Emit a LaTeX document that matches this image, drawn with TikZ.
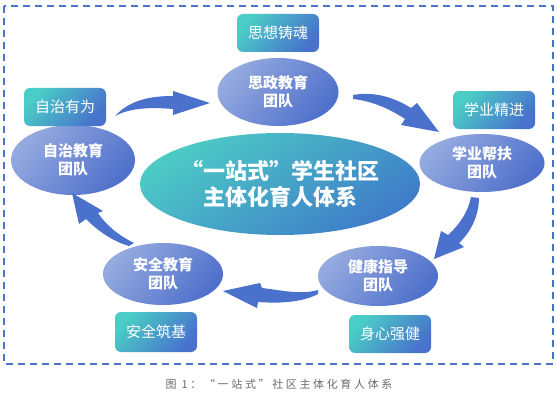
\documentclass[tikz,border=0pt]{standalone}
\usepackage{fontspec}
\setmainfont{Noto Sans CJK SC}
\usetikzlibrary{shapes.geometric}
\definecolor{elA}{HTML}{95AADF}
\definecolor{elB}{HTML}{4F70CB}
\definecolor{coA}{HTML}{4CCBC5}
\definecolor{coB}{HTML}{3F7CC9}
\definecolor{tgA}{HTML}{4ACDC6}
\definecolor{tgB}{HTML}{4872CC}
\definecolor{arr}{HTML}{4A72CC}
\definecolor{capg}{HTML}{6A6A6A}
\tikzset{
  team/.style={ellipse, inner sep=0pt, shading=axis, top color=elA, bottom color=elB, shading angle=50, text=white, font=\bfseries\fontsize{15}{18}\selectfont, align=center},
  core/.style={ellipse, inner sep=0pt, shading=axis, top color=coA, bottom color=coB, shading angle=35, text=white, font=\bfseries\fontsize{22}{26}\selectfont, align=center},
  tag/.style={rectangle, rounded corners=6pt, minimum width=82pt, minimum height=38pt, inner sep=0pt, shading=axis, top color=tgA, bottom color=tgB, shading angle=50, text=white, font=\fontsize{15}{17}\selectfont},
  bigarrow/.style={fill=arr, draw=none},
  frame/.style={draw=arr, line width=1.6pt, dash pattern=on 7pt off 5pt}
}
\begin{document}
\begin{tikzpicture}[x=1pt,y=-1pt]
\useasboundingbox (0,0) rectangle (557,404);
\fill[white] (0,0) rectangle (557,404);
\draw[frame] (4,6) rectangle (553,364);

\node[core, minimum width=280pt, minimum height=102pt] (core) at (280,184) {“一站式”学生社区\\主体化育人体系};

\node[team, minimum width=124pt, minimum height=70pt] (zz) at (73,160) {自治教育\\团队};
\node[team, minimum width=121pt, minimum height=68pt] (sz) at (278,92) {思政教育\\团队};
\node[team, minimum width=125pt, minimum height=58pt] (xy) at (482,163) {学业帮扶\\团队};
\node[team, minimum width=120pt, minimum height=60pt] (jk) at (378,276) {健康指导\\团队};
\node[team, minimum width=120pt, minimum height=62pt] (aq) at (163,274) {安全教育\\团队};

\node[tag] (t1) at (278,33) {思想铸魂};
\node[tag] (t2) at (65,107) {自治有为};
\node[tag] (t3) at (494,110) {学业精进};
\node[tag, minimum height=40pt] (t4) at (156,332) {安全筑基};
\node[tag] (t5) at (390,334) {身心强健};

% arrows
\fill[bigarrow] (115,116) .. controls (130,100) and (150,96) .. (173,96)
  -- (173,91) -- (210,103) -- (173,115) -- (173,109)
  .. controls (150,107) and (130,108) .. (115,116) -- cycle;
\fill[bigarrow] (353,95) .. controls (375,91) and (395,98) .. (411,108)
  -- (417,103) -- (439,132) -- (401,125) -- (405,119)
  .. controls (390,109) and (372,101) .. (353,99) -- cycle;
\fill[bigarrow] (479,198) .. controls (479,215) and (471,232) .. (459,243)
  -- (464,247) -- (434,259) -- (441,231) -- (448,235)
  .. controls (460,224) and (468,212) .. (471,197) -- cycle;
\fill[bigarrow] (318,290) .. controls (300,295) and (280,290) .. (262,288)
  -- (260,283) -- (223,291) -- (257,308) -- (258,302)
  .. controls (285,304) and (305,301) .. (318,294) -- cycle;
\fill[bigarrow] (134,243) .. controls (118,235) and (106,225) .. (98,213)
  -- (103,211) -- (72,193) -- (79,224) -- (86,219)
  .. controls (100,233) and (115,242) .. (129,246) -- cycle;

\node[text=capg, font=\fontsize{11}{12}\selectfont\addfontfeatures{LetterSpace=24}] (cap) at (279,384) {图 1：“一站式”社区主体化育人体系};
\end{tikzpicture}
\end{document}
